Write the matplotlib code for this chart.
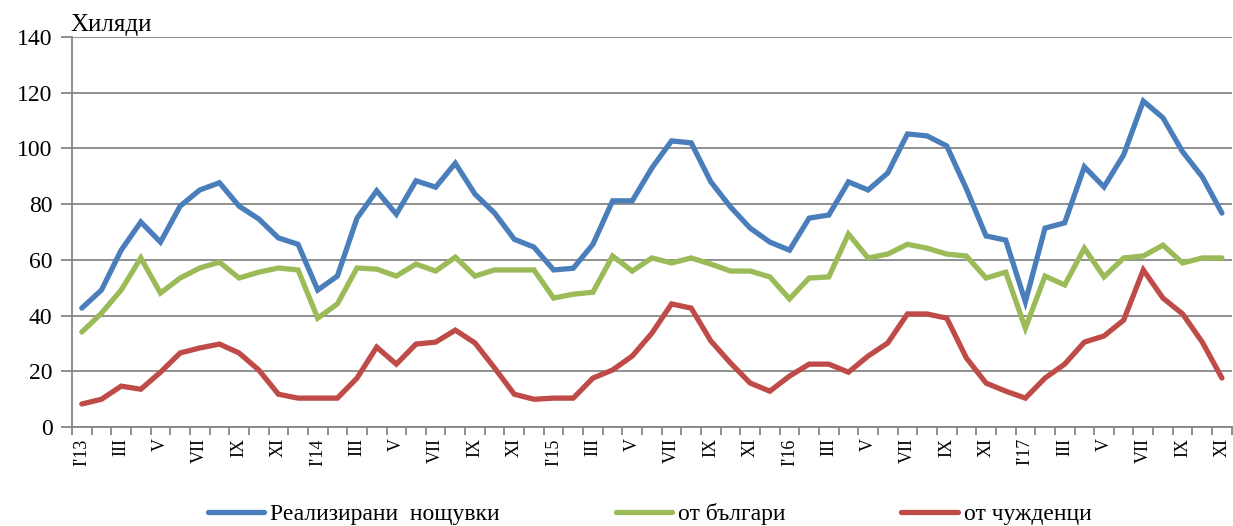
import matplotlib
matplotlib.use('Agg')
import matplotlib.pyplot as plt
import numpy as np

# monthly data, I'13 .. XI'17 (thousands)
months = ['I', 'II', 'III', 'IV', 'V', 'VI', 'VII', 'VIII', 'IX', 'X', 'XI', 'XII']
years = ['13', '14', '15', '16', '17']

total = [42.7, 49.2, 63.5, 73.6, 66.4, 79.3, 85.1, 87.7, 79.3, 74.7, 67.9, 65.6,
         49.2, 54.2, 75.0, 84.8, 76.4, 88.4, 86.1, 94.7, 83.6, 76.8, 67.4, 64.6,
         56.4, 57.0, 65.6, 81.2, 81.2, 93.0, 102.7, 102.0, 88.0, 79.0, 71.4, 66.4,
         63.5, 75.0, 76.1, 88.0, 85.1, 91.2, 105.2, 104.5, 100.9, 85.5, 68.6, 67.1,
         45.0, 71.4, 73.3, 93.4, 86.2, 97.7, 117.0, 111.0, 98.8, 89.8, 76.8]
bulgarians = [34.1, 40.9, 49.2, 60.7, 48.1, 53.5, 57.1, 59.2, 53.5, 55.6, 57.1, 56.4,
              39.1, 44.2, 57.1, 56.7, 54.2, 58.5, 56.0, 61.0, 54.2, 56.4, 56.4, 56.4,
              46.3, 47.7, 48.4, 61.4, 56.0, 60.7, 58.9, 60.7, 58.5, 56.0, 56.0, 53.9,
              46.0, 53.5, 53.9, 69.3, 60.7, 62.1, 65.6, 64.2, 62.1, 61.4, 53.5, 55.6,
              35.5, 54.2, 51.0, 64.2, 53.9, 60.7, 61.4, 65.3, 58.9, 60.7, 60.7]
foreigners = [8.3, 10.0, 14.7, 13.6, 19.7, 26.6, 28.4, 29.8, 26.6, 20.5, 11.8, 10.4,
              10.4, 10.4, 17.6, 28.7, 22.6, 29.8, 30.5, 34.8, 30.2, 21.2, 11.8, 10.0,
              10.4, 10.4, 17.6, 20.5, 25.5, 33.7, 44.2, 42.7, 30.9, 23.0, 15.8, 12.9,
              18.3, 22.6, 22.6, 19.7, 25.5, 30.2, 40.6, 40.6, 39.1, 24.8, 15.8, 12.9,
              10.4, 17.6, 22.6, 30.5, 32.7, 38.4, 56.4, 46.3, 40.6, 30.5, 17.6]

series_names = ['Реализирани  нощувки', 'от българи', 'от чужденци']
colors = ['#4A7EBB', '#9BBB59', '#BE4B48']

plt.rcParams['font.family'] = ['Liberation Serif', 'DejaVu Serif']

labels = []
for y in years:
    for m in months:
        labels.append(m + "'" + y if m == 'I' else m)
labels = labels[:len(total)]
x = np.arange(len(total))

fig = plt.figure(figsize=(12.33, 5.26), dpi=100)
ax = fig.add_axes([0.0584, 0.188, 0.9406, 0.7417])

for vals, name, c in zip([total, bulgarians, foreigners], series_names, colors):
    ax.plot(x, vals, color=c, lw=3.8, label=name, solid_capstyle='round',
            solid_joinstyle='miter')

ax.set_xlim(-0.5, len(total) - 0.5)
ax.set_ylim(0, 140)
ax.set_yticks(np.arange(0, 141, 20))
ax.yaxis.grid(True, color='#878787', lw=1.3)
ax.set_axisbelow(True)
for s in ['top', 'right']:
    ax.spines[s].set_visible(False)
for s in ['left', 'bottom']:
    ax.spines[s].set_color('#878787')
    ax.spines[s].set_linewidth(1.3)
ax.tick_params(axis='y', labelsize=17, length=8, width=1.3, color='#878787', pad=6)

# labels on every other month, ticks on category boundaries
ax.set_xticks(x[::2])
ax.set_xticklabels(labels[::2], rotation=90, fontsize=13)
ax.set_xticks(np.arange(-0.5, len(total), 1), minor=True)
ax.tick_params(axis='x', which='major', length=0, pad=8)
ax.tick_params(axis='x', which='minor', length=6, width=1.3, color='#878787')

fig.text(0.057, 0.952, 'Хиляди', fontsize=18, ha='left', va='center')

fig.legend(loc='center', bbox_to_anchor=(0.527, 0.023), ncol=3, frameon=False,
           fontsize=17, handlelength=2.4, columnspacing=4.9, handletextpad=0.25)

plt.savefig('out.png', dpi=100)
plt.close()
